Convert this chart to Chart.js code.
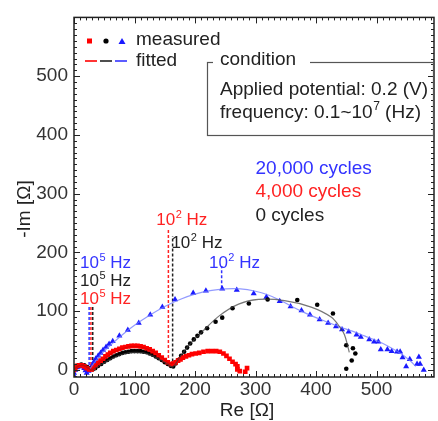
<!DOCTYPE html>
<html><head><meta charset="utf-8">
<script src="https://cdn.jsdelivr.net/npm/chart.js@4/dist/chart.umd.min.js"></script>
<style>html,body{margin:0;padding:0;background:#fff}#wrap{width:438px;height:421px;position:relative}</style>
</head><body><div id="wrap"><canvas id="c"></canvas></div>
<script>
// ---- tick labels ----
const xTickLabels = [0, 100, 200, 300, 400, 500];
const yTickLabels = [0, 100, 200, 300, 400, 500];

// ---- measured data [Re, -Im] ----
const red4000Measured = [[0,0],[2,4],[5,7],[9,8],[13,8],[17,6],[21,3],[25,1],[29,1],[32,4],[36,8],[40,12],[44,16],[48,19],[52,23],[56,26],[60,29],[65,32],[70,34],[75,36],[80,38],[85,39],[90,40],[95,41],[100,41],[105,41],[110,40],[115,39],[120,37],[125,35],[130,32],[135,29],[140,25],[145,21],[150,17],[155,13],[160,10],[164,11],[168,13],[172,16],[176,18],[180,21],[185,23],[190,25],[195,27],[201,28],[207,29],[214,31],[221,32],[228,32],[235,32],[241,31],[247,28],[252,24],[257,19],[262,14],[267,10],[270,6],[270,1],[274,-2],[283,-3],[286,3]];
const black0Measured = [[0,0],[3,5],[7,8],[12,9],[17,8],[22,5],[27,2],[31,1],[35,3],[40,7],[45,10],[50,14],[55,17],[60,20],[65,23],[70,25],[75,27],[80,29],[85,30],[90,31],[95,32],[100,32],[105,32],[110,32],[115,31],[120,30],[125,28],[130,26],[135,23],[140,20],[145,17],[150,13],[155,10],[160,7],[164,6],[168,11],[172,17],[177,24],[182,31],[187,38],[192,45],[198,52],[204,58],[210,64],[220,71],[234,82],[245,89],[262,105],[289,113],[320,120],[369,119],[402,111],[428,96],[450,42],[461,37],[465,28],[459,16],[450,2]];
const blue20000Measured = [[0,-10],[0,-5],[2,0],[5,4],[9,6],[13,6],[17,3],[19,-1],[21,-5],[24,-2],[27,2],[30,8],[33,14],[36,19],[40,24],[44,29],[48,34],[53,39],[58,44],[64,49],[75,58],[89,68],[107,80],[126,94],[146,107],[167,120],[197,131],[218,135],[245,138],[269,136],[297,130],[318,124],[340,117],[358,108],[376,101],[390,94],[406,86],[420,80],[433,74],[443,69],[454,65],[467,60],[474,56],[488,52],[496,48],[503,48],[507,35],[518,35],[525,32],[534,31],[539,31],[543,21],[549,6],[555,18],[567,10],[570,22],[572,10],[578,0]];

// ---- fitted data ----
const blue20000Fitted = [[25,0],[35,14],[45,27],[60,42],[80,60],[100,76],[125,93],[150,108],[175,120],[200,129],[225,135],[250,138],[275,138],[300,134],[320,128],[340,119],[360,108],[380,98],[400,89],[420,81],[440,73],[460,66],[480,58],[500,50],[520,40],[540,28],[555,16],[565,6]];
const black0Fitted = [[0,0],[6,6],[12,8],[18,7],[24,3],[30,0],[40,6],[55,15],[70,23],[85,28],[100,30],[115,29],[130,24],[145,16],[155,10],[163,5],[175,22],[190,42],[210,63],[240,92],[272,112],[305,120],[348,118],[392,107],[425,90],[440,72],[447,60],[452,42],[455,30]];
const red4000Fitted = [[0,0],[6,6],[12,8],[18,7],[24,3],[28,0],[40,11],[55,23],[70,32],[85,38],[100,40],[115,38],[130,32],[145,22],[157,11],[165,12]];

// ---- frequency markers ----
const blueMark1e5 = [[25,0],[25,110]];
const redMark1e5 = [[28,0],[28,110]];
const blackMark1e5 = [[31,0],[31,110]];
const redMark1e2 = [[156,12],[156,238]];
const blackMark1e2 = [[163,6],[163,228]];
const blueMark1e2 = [[244,139],[244,177]];

// ---- annotations: [x, y, base, sup, rest, color] in data coords ----
const freqLabels = [
  [10,181,'10','5',' Hz','#3333ff'],
  [10,150,'10','5',' Hz','#222222'],
  [10,120,'10','5',' Hz','#ff2222'],
  [136,255,'10','2',' Hz','#ff2222'],
  [161,216,'10','2',' Hz','#222222'],
  [223,181,'10','2',' Hz','#3333ff']
];
const cycleLabels = [
  [300,343,'20,000 cycles','#3333ff'],
  [300,304,'4,000 cycles','#ff2222'],
  [300,262,'0 cycles','#222222']
];

const FONT = '"Liberation Sans", Arial, Helvetica, sans-serif';
const pts = a => a.map(p => ({x:p[0], y:p[1]}));

function supText(ctx, x, y, base, sup, rest, size, color){
  ctx.save();
  ctx.fillStyle = color; ctx.textBaseline = 'middle'; ctx.textAlign = 'left';
  ctx.font = size + 'px ' + FONT;
  ctx.fillText(base, x, y);
  let w = ctx.measureText(base).width;
  ctx.font = Math.round(size*0.62) + 'px ' + FONT;
  ctx.fillText(sup, x + w + 0.5, y - size*0.32);
  let w2 = ctx.measureText(sup).width;
  ctx.font = size + 'px ' + FONT;
  ctx.fillText(rest, x + w + w2 + 0.5, y);
  ctx.restore();
}

const decor = {
  id: 'decor',
  afterDatasetsDraw(chart){
    const {ctx, chartArea:a, scales:{x, y}} = chart;
    ctx.save();
    // ticks
    ctx.strokeStyle = '#222'; ctx.lineWidth = 1;
    ctx.beginPath();
    for (let v = 0; v <= x.max; v += 10){
      const p = Math.round(x.getPixelForValue(v)) + 0.5;
      const L = v % 100 === 0 ? 6 : 3;
      ctx.moveTo(p, a.bottom); ctx.lineTo(p, a.bottom - L);
      ctx.moveTo(p, a.top); ctx.lineTo(p, a.top + L);
    }
    for (let v = -10; v <= y.max; v += 10){
      const p = Math.round(y.getPixelForValue(v)) + 0.5;
      const L = v % 100 === 0 ? 6 : 3;
      ctx.moveTo(a.left, p); ctx.lineTo(a.left + L, p);
      ctx.moveTo(a.right, p); ctx.lineTo(a.right - L, p);
    }
    ctx.stroke();
    // frame
    ctx.lineWidth = 1.5; ctx.strokeStyle = '#222';
    ctx.strokeRect(a.left, a.top, a.right - a.left, a.bottom - a.top);

    // x tick labels
    ctx.fillStyle = '#333'; ctx.font = '19px ' + FONT;
    ctx.textAlign = 'center'; ctx.textBaseline = 'middle';
    xTickLabels.forEach(v => ctx.fillText(String(v), x.getPixelForValue(v), 390));

    // axis titles
    ctx.fillStyle = '#222'; ctx.font = '19px ' + FONT;
    ctx.textAlign = 'center'; ctx.textBaseline = 'middle';
    ctx.fillText('Re [\u03A9]', 247, 411);
    ctx.save(); ctx.translate(25, 209); ctx.rotate(-Math.PI/2);
    ctx.fillText('-Im [\u03A9]', 0, 0); ctx.restore();

    // frequency labels
    freqLabels.forEach(l => supText(ctx, x.getPixelForValue(l[0]), y.getPixelForValue(l[1]), l[2], l[3], l[4], 17, l[5]));
    // cycle labels
    ctx.font = '19px ' + FONT; ctx.textAlign = 'left'; ctx.textBaseline = 'middle';
    cycleLabels.forEach(l => { ctx.fillStyle = l[3]; ctx.fillText(l[2], x.getPixelForValue(l[0]), y.getPixelForValue(l[1])); });

    // legend
    ctx.fillStyle = '#ff0000'; ctx.fillRect(87, 38.5, 5, 5);
    ctx.fillStyle = '#000'; ctx.beginPath(); ctx.arc(106, 41, 2.6, 0, Math.PI*2); ctx.fill();
    ctx.fillStyle = '#1a1aff'; ctx.beginPath(); ctx.moveTo(122, 38); ctx.lineTo(125.5, 44); ctx.lineTo(118.5, 44); ctx.closePath(); ctx.fill();
    ctx.lineWidth = 1.6;
    [['#ff0000',85],['#222',100],['#3333ff',115]].forEach(d => { ctx.strokeStyle = d[0]; ctx.beginPath(); ctx.moveTo(d[1], 61); ctx.lineTo(d[1]+12, 61); ctx.stroke(); });
    ctx.fillStyle = '#222'; ctx.font = '19px ' + FONT; ctx.textAlign = 'left'; ctx.textBaseline = 'middle';
    ctx.fillText('measured', 136, 40);
    ctx.fillText('fitted', 136, 61);

    // condition box
    ctx.strokeStyle = '#555'; ctx.lineWidth = 1.2;
    ctx.strokeRect(207.5, 62.5, 226, 73);
    ctx.fillStyle = '#fff'; ctx.fillRect(213, 56, 97, 12);
    ctx.fillStyle = '#222';
    ctx.fillText('condition', 220, 60);
    ctx.fillText('Applied potential: 0.2 (V)', 220, 90);
    supText(ctx, 220, 113, 'frequency: 0.1~10', '7', ' (Hz)', 19, '#222');
    ctx.restore();
  }
};

const lineDs = (data, color, width, dash) => ({type:'scatter', data:pts(data), showLine:true, borderColor:color, borderWidth:width, borderDash:dash||[], pointRadius:0, fill:false, tension:0.35});
const ptDs = (data, color, style, r) => ({type:'scatter', data:pts(data), showLine:false, backgroundColor:color, borderColor:color, borderWidth:0, pointStyle:style, pointRadius:r});

new Chart(document.getElementById('c'), {
  type: 'scatter',
  data: { datasets: [
    lineDs(red4000Fitted, 'rgba(220,0,0,0.8)', 1.2),
    lineDs(black0Fitted, 'rgba(60,60,60,0.7)', 1.2),
    lineDs(blue20000Fitted, 'rgba(110,120,255,0.75)', 1.2),
    ptDs(red4000Measured, '#ff0000', 'rect', 3.3),
    ptDs(black0Measured, '#000000', 'circle', 2.3),
    ptDs(blue20000Measured, '#1a1aff', 'triangle', 3.5),
    {...lineDs(blueMark1e5, '#3333ff', 1.5, [3,2]), tension:0},
    {...lineDs(redMark1e5, '#ff2222', 1.5, [3,2]), tension:0},
    {...lineDs(blackMark1e5, '#222', 1.5, [3,2]), tension:0},
    {...lineDs(redMark1e2, '#ff2222', 1.5, [3,2]), tension:0},
    {...lineDs(blackMark1e2, '#222', 1.5, [3,2]), tension:0},
    {...lineDs(blueMark1e2, '#3333ff', 1.5, [3,2]), tension:0}
  ]},
  options: {
    responsive: true, maintainAspectRatio: false, animation: false, devicePixelRatio: 1,
    layout: { padding: { left: 0, top: 14, right: 1, bottom: 0 } },
    plugins: { legend: { display: false }, tooltip: { enabled: false } },
    scales: {
      x: { type: 'linear', min: 0, max: 595,
        grid: { display: false, drawTicks: false }, border: { display: false },
        ticks: { display: false, stepSize: 100, includeBounds: false },
        afterFit: s => { s.height = 44; } },
      y: { type: 'linear', min: -12, max: 600,
        grid: { display: false, drawTicks: false }, border: { display: false },
        ticks: { stepSize: 100, includeBounds: false, padding: 6, color: '#333', font: { size: 19, family: FONT },
          callback: v => yTickLabels.includes(v) ? String(v) : '' },
        afterFit: s => { s.width = 74; } }
    }
  },
  plugins: [decor]
});
</script>
</body></html>
